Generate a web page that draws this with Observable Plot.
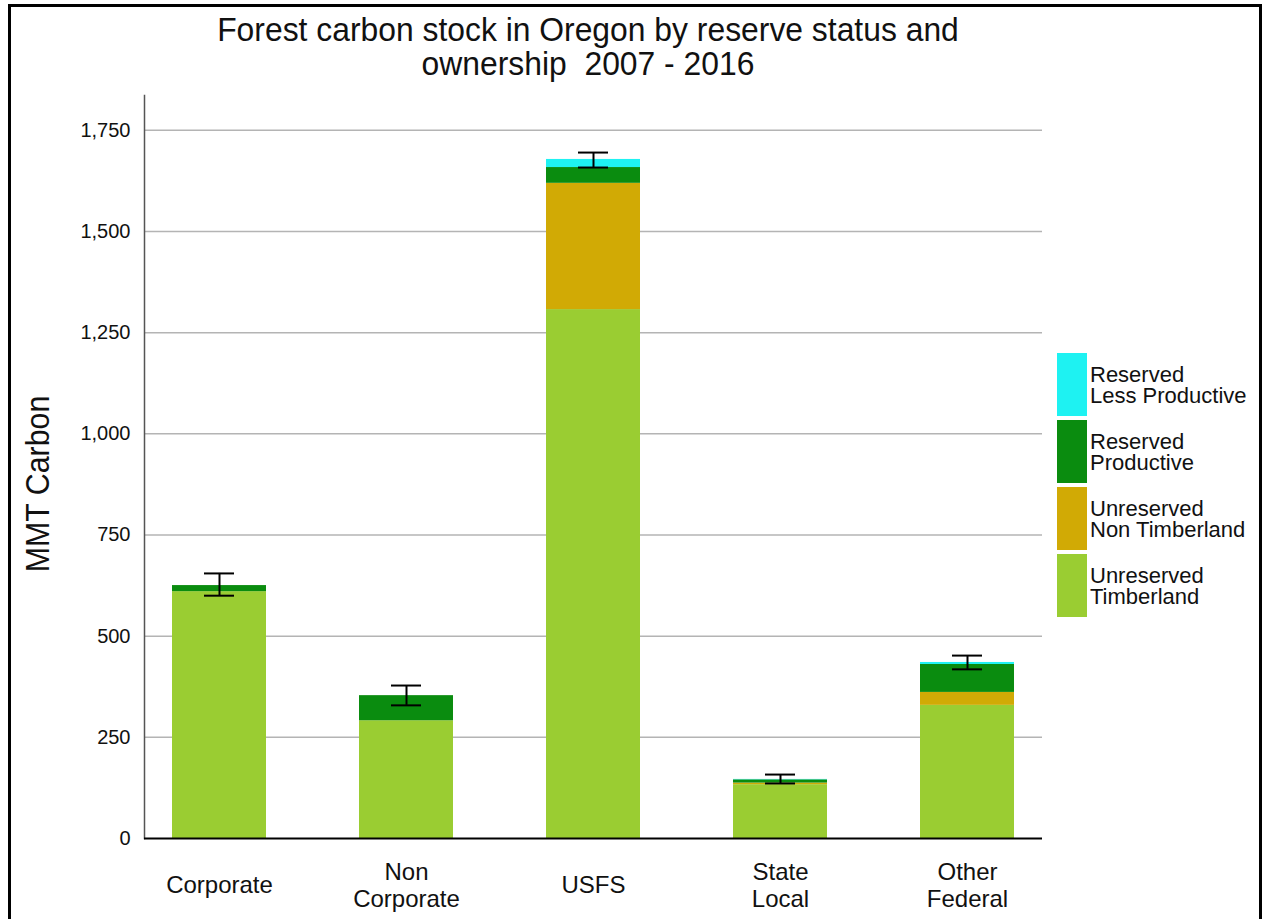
<!DOCTYPE html>
<html>
<head>
<meta charset="utf-8">
<script src="https://cdn.jsdelivr.net/npm/d3@7"></script>
<script src="https://cdn.jsdelivr.net/npm/@observablehq/plot@0.6"></script>
<style>
  body { margin: 0; background: #fff; }
  #wrap { position: relative; width: 1265px; height: 919px; overflow: hidden; background: #fff; font-family: "Liberation Sans", Arial, sans-serif; }
  #frame { position: absolute; left: 8px; top: 4px; width: 1254px; height: 960px; border: 3px solid #000; box-sizing: border-box; pointer-events: none; }
  #chart { position: absolute; left: 0; top: 0; }
  #title { position: absolute; left: 0; width: 1176px; top: 13px; text-align: center; font-family: "Liberation Sans", Arial, sans-serif; font-size: 33px; line-height: 34px; color: #111; transform: scaleX(0.965); transform-origin: 588px 0; }
  #ylabel { position: absolute; left: 38px; top: 484px; transform: translate(-50%, -50%) rotate(-90deg) scaleX(0.92); white-space: nowrap; font-family: "Liberation Sans", Arial, sans-serif; font-size: 33px; color: #111; }
  #legend { position: absolute; left: 1057px; top: 353px; }
  .item { display: flex; align-items: center; height: 63px; margin-bottom: 4px; }
  .sw { width: 30px; height: 63px; flex: none; }
  .lab { margin-left: 3px; font-size: 22px; line-height: 21px; color: #111; white-space: pre; }
</style>
</head>
<body>
<div id="wrap">
  <div id="chart"></div>
  <div id="title">Forest carbon stock in Oregon by reserve status and<br>ownership&nbsp; 2007 - 2016</div>
  <div id="ylabel">MMT Carbon</div>
  <div id="legend"></div>
  <div id="frame"></div>
</div>
<script>
// Categories
const owners = ["Corporate", "Non\nCorporate", "USFS", "State\nLocal", "Other\nFederal"];
const classes = ["Unreserved\nTimberland", "Unreserved\nNon Timberland", "Reserved\nProductive", "Reserved\nLess Productive"];
const classColors = ["#9acd32", "#d1aa05", "#0a8c0f", "#1ef2f2"];

// Series values (MMT carbon), one per owner
const unreservedTimberland = [610, 291, 1307, 133, 329];
const unreservedNonTimberland = [0, 0, 312, 4, 32];
const reservedProductive = [15, 62, 39, 8, 69];
const reservedLessProductive = [0, 0, 20, 1, 5];

// Error bar bounds
const errLow = [600, 329, 1658, 136, 418];
const errHigh = [655, 378, 1695, 158, 452];

// Tick values
const yTicks = [0, 250, 500, 750, 1000, 1250, 1500, 1750];

const series = [unreservedTimberland, unreservedNonTimberland, reservedProductive, reservedLessProductive];
const data = [];
series.forEach((vals, i) => owners.forEach((o, j) => data.push({owner: o, cls: classes[i], value: vals[j]})));
const errs = owners.map((o, j) => ({owner: o, lo: errLow[j], hi: errHigh[j]}));

const chart = Plot.plot({
  width: 1265,
  height: 919,
  marginLeft: 144,
  marginRight: 223,
  marginTop: 95,
  marginBottom: 81,
  style: {fontFamily: "'Liberation Sans', Arial, sans-serif", background: "transparent", color: "#111"},
  x: {domain: owners, paddingInner: 0.5, paddingOuter: 0.15, label: null},
  y: {domain: [0, 1836], label: null},
  color: {domain: classes, range: classColors},
  marks: [
    Plot.gridY(yTicks.filter(d => d > 0), {stroke: "#b4b4b4", strokeOpacity: 1, strokeWidth: 1.5}),
    Plot.barY(data, {x: "owner", y: "value", fill: "cls", insetLeft: 0, insetRight: 0, insetTop: 0, insetBottom: 0}),
    Plot.ruleX(errs, {x: "owner", y1: "lo", y2: "hi", stroke: "#000", strokeWidth: 2}),
    Plot.tickY(errs, {x: "owner", y: "lo", stroke: "#000", strokeWidth: 2, insetLeft: 32, insetRight: 32}),
    Plot.tickY(errs, {x: "owner", y: "hi", stroke: "#000", strokeWidth: 2, insetLeft: 32, insetRight: 32}),
    Plot.frame({anchor: "left", stroke: "#555", strokeWidth: 1.5}),
    Plot.ruleY([0], {stroke: "#000", strokeWidth: 2}),
    Plot.axisY({ticks: yTicks, tickFormat: d3.format(","), tickSize: 0, tickPadding: 14, fontSize: 20, label: null}),
    Plot.axisX({tickSize: 0, tickPadding: 46, lineAnchor: "middle", fontSize: 24, lineHeight: 1.15, label: null})
  ]
});
document.getElementById("chart").appendChild(chart);

// Legend (top to bottom: reverse of stack order)
const legend = document.getElementById("legend");
for (let i = classes.length - 1; i >= 0; i--) {
  const item = document.createElement("div");
  item.className = "item";
  const sw = document.createElement("div");
  sw.className = "sw";
  sw.style.background = classColors[i];
  const lab = document.createElement("div");
  lab.className = "lab";
  lab.textContent = classes[i];
  item.appendChild(sw);
  item.appendChild(lab);
  legend.appendChild(item);
}
</script>
</body>
</html>
